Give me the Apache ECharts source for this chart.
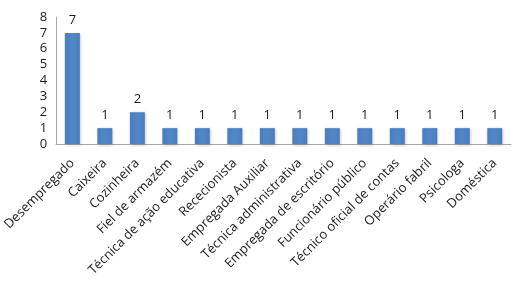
<!DOCTYPE html>
<html>
<head>
<meta charset="utf-8">
<script src="https://cdn.jsdelivr.net/npm/echarts@6/dist/echarts.min.js"></script>
<style>
html,body{margin:0;padding:0;background:#fff;}
#chart{width:517px;height:304px;}
</style>
</head>
<body>
<div id="chart"></div>
<script>
// categorias (profissões)
var categorias = ['Desempregado','Caixeira','Cozinheira','Fiel de armazém','Técnica de ação educativa','Rececionista','Empregada Auxiliar','Técnica administrativa','Empregada de escritório','Funcionário público','Técnico oficial de contas','Operário fabril','Psicologa','Doméstica'];
// número de pessoas
var valores = [7,1,2,1,1,1,1,1,1,1,1,1,1,1];
var yMin = 0, yMax = 8, yStep = 1;

var myChart = echarts.init(document.getElementById('chart'));
var option = {
    animation:false,
    grid:{
        left:55,
        right:6,
        top:17,
        bottom:160,
        containLabel:false
    },
    xAxis:{
        type:'category',
        data:categorias,
        axisTick:{show:false},
        axisLine:{lineStyle:{color:'#a6a6a6',width:1}},
        axisLabel:{
            interval:0,
            rotate:45,
            margin:17,
            color:'#1a1a1a',
            fontFamily:'Open Sans',
            fontSize:13
        }
    },
    yAxis:{
        type:'value',
        min:yMin,
        max:yMax,
        interval:yStep,
        splitLine:{show:false},
        axisTick:{show:false},
        axisLine:{show:true,lineStyle:{color:'#a6a6a6',width:1}},
        axisLabel:{
            color:'#1a1a1a',
            fontFamily:'Open Sans',
            fontSize:13,
            margin:9
        }
    },
    series:[
        {
            type:'bar',
            data:valores,
            barWidth:15,
            itemStyle:{
                color:new echarts.graphic.LinearGradient(0,0,1,0,[
                    {offset:0,color:'#4a7dbd'},
                    {offset:0.5,color:'#5188c9'},
                    {offset:1,color:'#4a7dbd'}
                ]),
                shadowColor:'rgba(0,0,0,0.25)',
                shadowBlur:3,
                shadowOffsetX:1,
                shadowOffsetY:1
            },
            label:{
                show:true,
                position:'top',
                distance:6,
                color:'#1a1a1a',
                fontFamily:'Open Sans',
                fontSize:13
            }
        }
    ]
};
myChart.setOption(option);
</script>
</body>
</html>
